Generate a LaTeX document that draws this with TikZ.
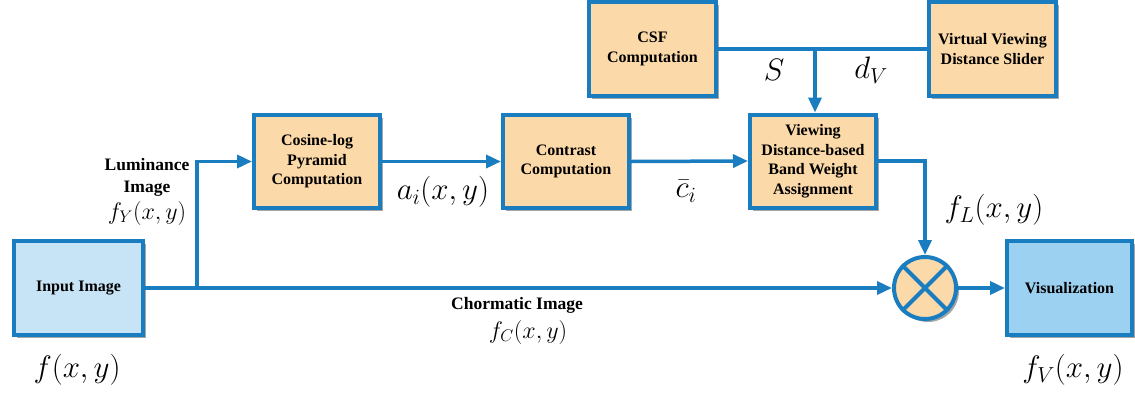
\RequirePackage{fix-cm}
\documentclass[tikz,border=0pt]{standalone}
\usepackage{fontspec}
\setmainfont{Liberation Serif}
\usetikzlibrary{arrows.meta,shadows}
\definecolor{bl}{HTML}{1A7DC0}
\definecolor{org}{HTML}{FCD9A8}
\definecolor{lb}{HTML}{C6E4F6}
\definecolor{mb}{HTML}{9DD1F1}
\begin{document}
\begin{tikzpicture}[x=1pt,y=-1pt,
 box/.style={draw=bl, line width=4pt, fill=org, minimum width=126pt, minimum height=93pt,
   align=center, font=\fontsize{16}{19.5}\selectfont\bfseries, inner sep=2pt,
   drop shadow={shadow xshift=3pt, shadow yshift=-3pt, opacity=0.35, fill=black}},
 conn/.style={draw=bl, line width=3.5pt},
 arr/.style={conn, -{Triangle[length=15pt,width=13pt]}},
 big/.style={font=\fontsize{31}{36}\selectfont},
 med/.style={font=\fontsize{24}{28}\selectfont},
 lbl/.style={font=\fontsize{17.5}{22}\selectfont\bfseries, align=center}]
\useasboundingbox (0,0) rectangle (1135,394);
% boxes
\node[box, fill=lb, minimum width=129pt, minimum height=94pt] (in) at (78.5,288) {Input Image};
\node[box] (cos) at (317,161.5) {Cosine-log\\Pyramid\\Computation};
\node[box] (con) at (566,161.5) {Contrast\\Computation};
\node[box] (vw) at (813,161) {Viewing\\Distance-based\\Band Weight\\Assignment};
\node[box, minimum width=127pt, minimum height=94pt] (csf) at (652.5,49) {CSF\\Computation};
\node[box, minimum width=127pt, minimum height=94pt] (vv) at (992.5,49) {Virtual Viewing\\Distance Slider};
\node[box, fill=mb, minimum width=125pt, minimum height=94pt] (vis) at (1069.5,288) {Visualization};
\node[circle, draw=bl, line width=4pt, fill=org, minimum size=62pt, inner sep=0pt,
   drop shadow={shadow xshift=3pt, shadow yshift=-3pt, opacity=0.35, fill=black}] (mul) at (925,288) {};
\draw[bl, line width=4pt] (mul.45) -- (mul.225) (mul.135) -- (mul.315);
% connectors
\coordinate (j1) at (197,288);
\coordinate (j2) at (815,49);
\draw[arr] (in.east) -- (mul.west);
\draw[arr] (j1) |- (cos.west);
\draw[arr] (cos.east) -- (con.west);
\draw[arr] (con.east) -- (vw.west);
\draw[conn] (csf.east) -- (vv.west);
\draw[arr] (j2) -- (j2 |- vw.north);
\draw[arr] (vw.east) -| (mul.north);
\draw[arr] (mul.east) -- (vis.west);
% labels
\node[lbl] (lum) at (147,177) {Luminance\\Image};
\node[med] (fy) at (147,213) {$f_Y(x,y)$};
\node[big] (f) at (77,370) {$f(x,y)$};
\node[big] (ai) at (443,192) {$a_i(x,y)$};
\node[big] (ci) at (686,191) {$\bar c_i$};
\node[big] (S) at (774,70) {$S$};
\node[big] (dv) at (871,70) {$d_V$};
\node[big] (fl) at (994,210) {$f_L(x,y)$};
\node[big] (fv) at (1073,370) {$f_V(x,y)$};
\node[lbl] (chr) at (517,305) {Chormatic Image};
\node[med] (fc) at (528,332) {$f_C(x,y)$};
\end{tikzpicture}
\end{document}
